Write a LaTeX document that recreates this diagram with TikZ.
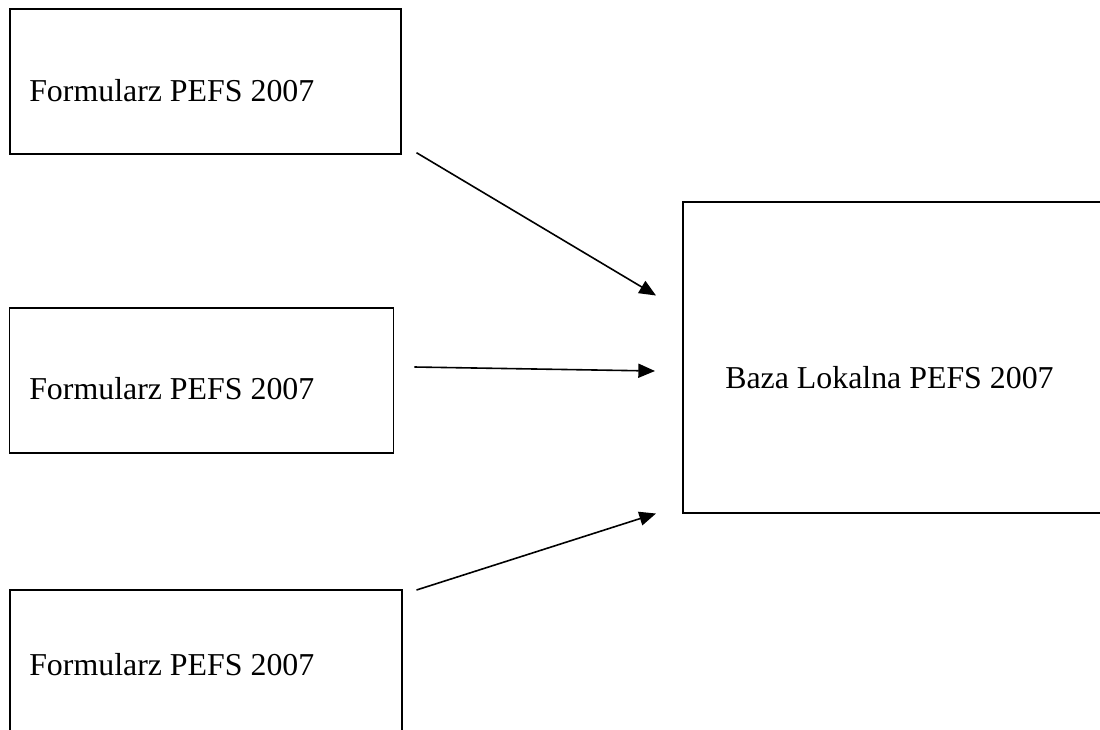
\documentclass[tikz,border=0pt]{standalone}
\usepackage{fontspec}
\setmainfont{Liberation Serif}
\usetikzlibrary{arrows.meta}
\tikzset{
  boxstyle/.style={draw=black, line width=1.3pt, rectangle, inner sep=0pt, anchor=north west},
  labelstyle/.style={anchor=base west, inner sep=0pt, font=\fontsize{23.9}{28}\selectfont},
  arrowstyle/.style={line width=1.2pt, -{Triangle[length=12.5pt, width=10.5pt]}}
}
\begin{document}
\begin{tikzpicture}[x=0.75pt, y=-0.75pt]
\useasboundingbox (0,0) rectangle (1100,729);
\fill[white] (0,0) rectangle (1100,729);
\clip (0,0) rectangle (1100,729);
% boxes
\node[boxstyle, minimum width=391*0.75pt, minimum height=145*0.75pt] (b1) at (9,8) {};
\node[boxstyle, minimum width=384*0.75pt, minimum height=145*0.75pt] (b2) at (8.5,307) {};
\node[boxstyle, minimum width=392*0.75pt, minimum height=160*0.75pt] (b3) at (9,589) {};
\node[boxstyle, minimum width=440*0.75pt, minimum height=311*0.75pt] (b4) at (682,201) {};
% labels
\node[labelstyle] (t1) at (29,101) {Formularz PEFS 2007};
\node[labelstyle] (t2) at (29,399) {Formularz PEFS 2007};
\node[labelstyle] (t3) at (29,675) {Formularz PEFS 2007};
\node[labelstyle] (t4) at (725,388) {Baza Lokalna PEFS 2007};
% arrow ends
\coordinate (s1) at (416.5,152.7);
\coordinate (e1) at (656,295.5);
\coordinate (s2) at (414.3,367);
\coordinate (e2) at (655,371);
\coordinate (s3) at (416.5,590);
\coordinate (e3) at (656,513.5);
\draw[arrowstyle] (s1) -- (e1);
\draw[arrowstyle] (s2) -- (e2);
\draw[arrowstyle] (s3) -- (e3);
\end{tikzpicture}
\end{document}
